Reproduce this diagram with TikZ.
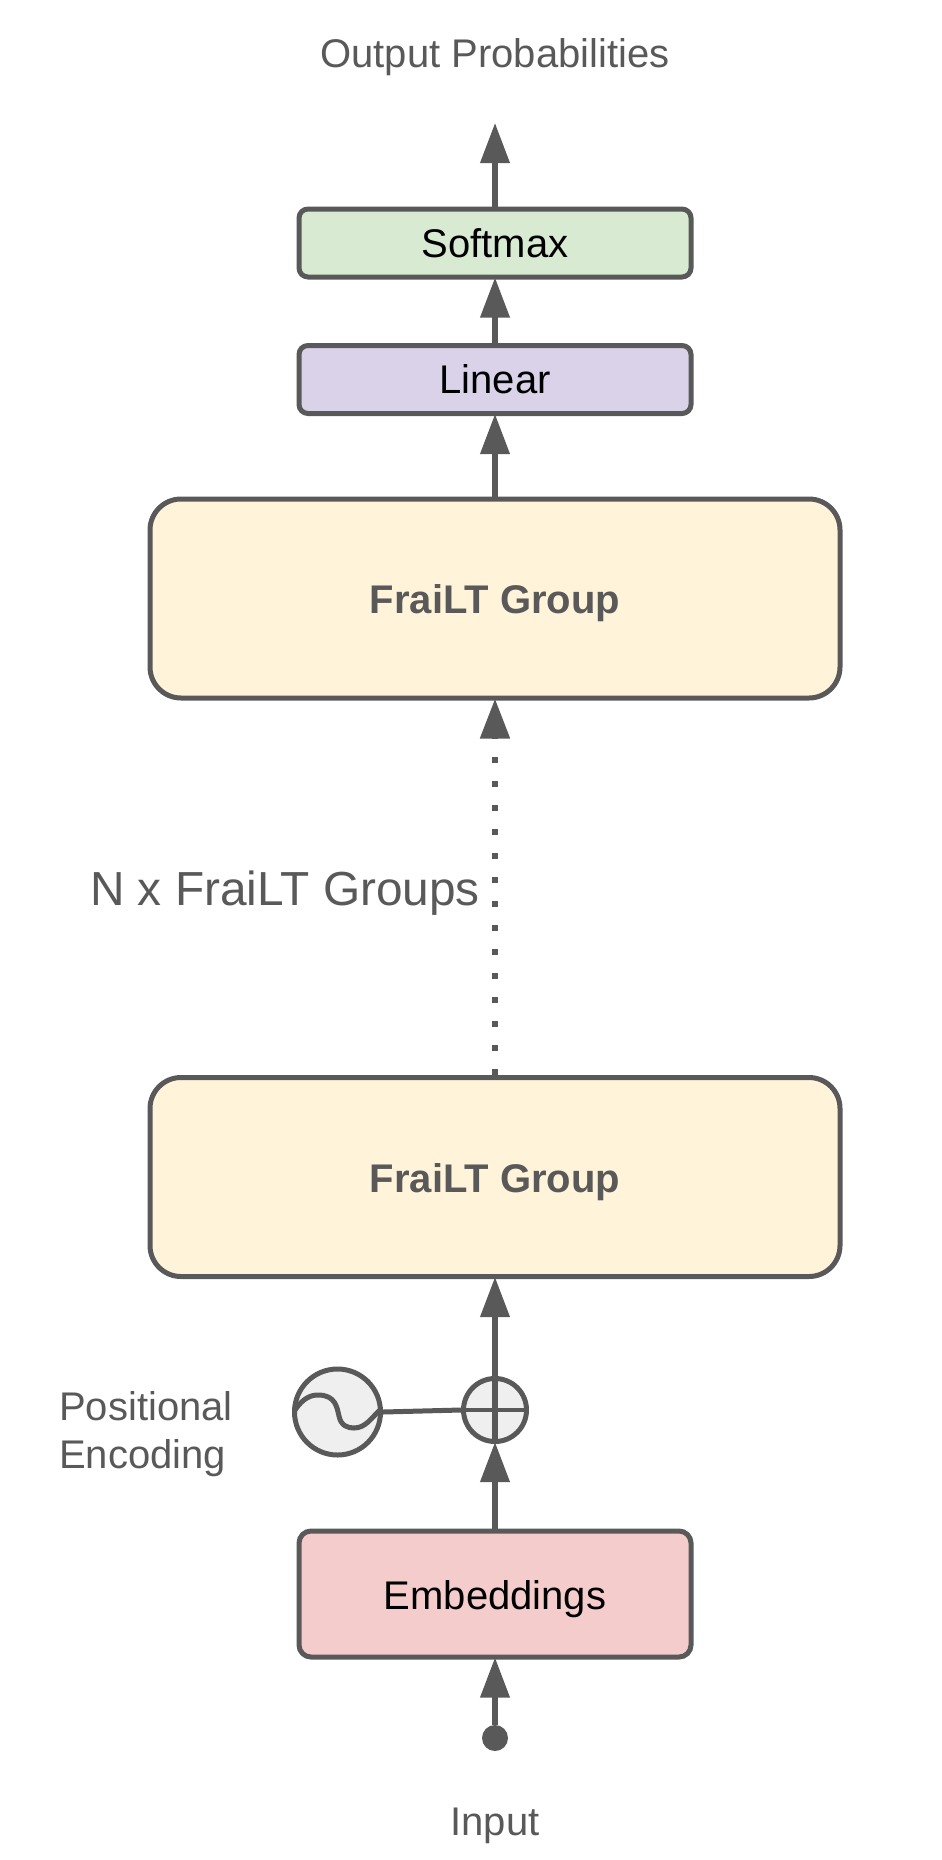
\documentclass[tikz,border=0pt]{standalone}
\usepackage{fontspec}
\setmainfont{Liberation Sans}
\usetikzlibrary{arrows.meta}
\definecolor{ink}{HTML}{595959}
\definecolor{softmaxfill}{HTML}{D9EAD3}
\definecolor{linearfill}{HTML}{D9D2E9}
\definecolor{groupfill}{HTML}{FFF4DA}
\definecolor{embedfill}{HTML}{F4CCCC}
\definecolor{circlefill}{HTML}{EFEFEF}
\tikzset{
  boxbase/.style={draw=ink,line width=5pt,rectangle,inner sep=0pt,outer sep=.5\pgflinewidth,
    text height=32.6pt,text depth=4pt,font=\fontsize{40}{47}\selectfont,text=black},
  smallbox/.style={boxbase,rounded corners=9pt,minimum width=392pt,minimum height=68pt},
  groupbox/.style={boxbase,rounded corners=31pt,minimum width=690pt,minimum height=199pt,
    fill=groupfill,text=ink,text height=34.6pt,font=\fontsize{40}{47}\selectfont\bfseries},
  caption/.style={anchor=base,inner sep=0pt,text=ink,font=\fontsize{40}{47}\selectfont},
  conn/.style={draw=ink,line width=5.4pt,shorten >=-2pt,-{Triangle[length=40pt,width=28.5pt,fill=ink]}},
  wire/.style={draw=ink,line width=5pt},
  roundel/.style={circle,draw=ink,fill=circlefill,line width=5pt,inner sep=0pt}
}
\begin{document}
\begin{tikzpicture}[x=1pt,y=-1pt]
\useasboundingbox (0,0) rectangle (942,1860);

% captions
\node[caption] (output) at (495,67) {Output Probabilities};
\node[caption] (input) at (495,1835) {Input};
\node[caption,anchor=base west] (pos1) at (59,1420) {Positional};
\node[caption,anchor=base west] (pos2) at (59,1468) {Encoding};
\node[caption,anchor=base east,font=\fontsize{47.8}{56}\selectfont] (repeat) at (480,905) {N x FraiLT Groups};

% stacked blocks
\node[smallbox,fill=softmaxfill] (softmax) at (495,243) {Softmax};
\node[smallbox,fill=linearfill] (linear) at (495,379.5) {Linear};
\node[groupbox] (top) at (495,598.5) {FraiLT Group};
\node[groupbox] (bottom) at (495,1177) {FraiLT Group};
\node[smallbox,fill=embedfill,rounded corners=12pt,minimum height=126pt,text height=34.6pt] (embed) at (495,1594) {Embeddings};

% positional encoding and its adder
\node[roundel,minimum size=86pt] (pe) at (337.5,1412) {};
\node[roundel,minimum size=63pt] (plus) at (495,1410) {};
\node[circle,fill=ink,inner sep=0pt,minimum size=26pt] (source) at (495,1738) {};
\coordinate (outend) at (495,125);

\draw[wire,line cap=round] (295,1410) .. controls (303,1398) and (311,1395) .. (318,1395)
  .. controls (336,1395) and (337,1408) .. (339,1416)
  .. controls (341,1426) and (348,1428) .. (354,1428)
  .. controls (366,1428) and (372,1417) .. (380,1410);
\draw[wire] (pe.east) -- (plus.west);
\draw[wire,line width=4.5pt] (plus.west) -- (plus.east);

% upward flow
\draw[conn] (source) -- (embed.south);
\draw[conn] (embed.north) -- (plus.south);
\draw[conn] (plus.south) -- (bottom.south);
\draw[conn,line width=6.5pt,dash pattern=on 6pt off 18pt] (bottom.north) -- (top.south);
\draw[conn] (top.north) -- (linear.south);
\draw[conn] (linear.north) -- (softmax.south);
\draw[conn] (softmax.north) -- (outend);
\end{tikzpicture}
\end{document}
